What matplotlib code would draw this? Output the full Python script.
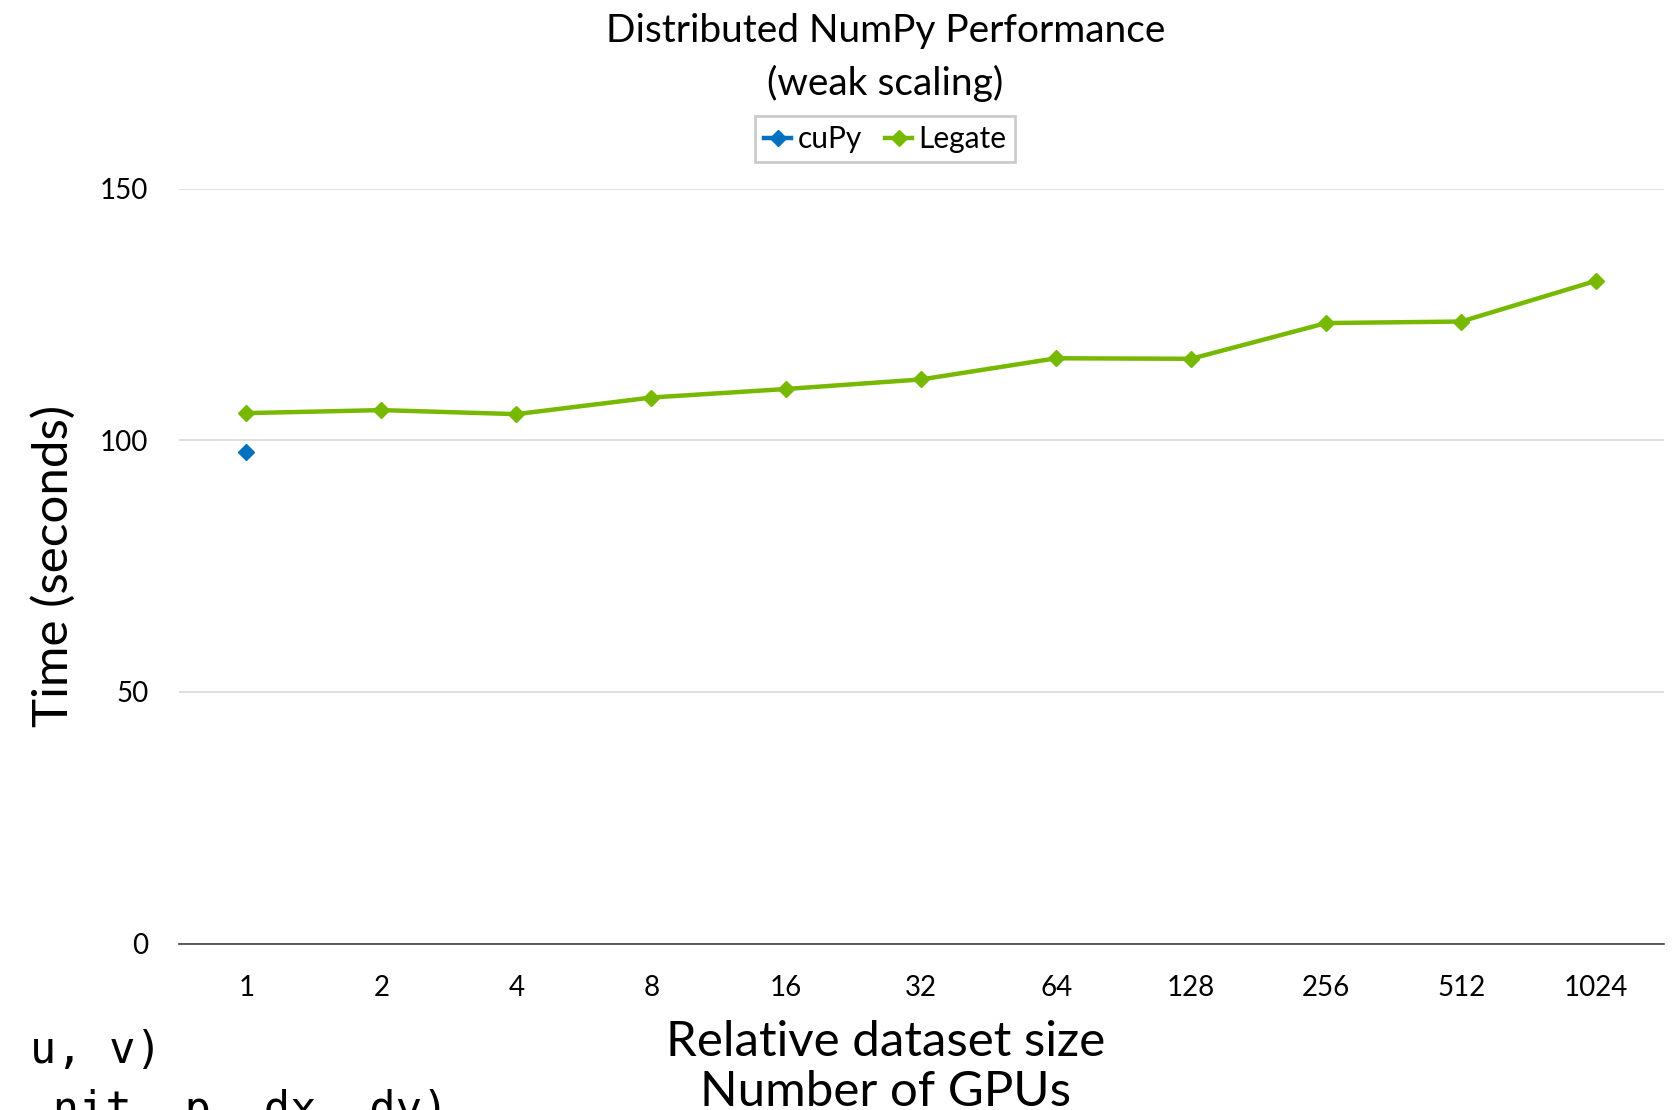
import matplotlib.pyplot as plt

# Datos
gpus = ["1", "2", "4", "8", "16", "32", "64", "128", "256", "512", "1024"]
legate_time = [105.4, 106.0, 105.2, 108.5, 110.2, 112.1, 116.3, 116.2, 123.3, 123.6, 131.7]
cupy_time = [97.6]

GREEN = "#76b900"
BLUE = "#0070c0"
CX = 0.5295  # centro horizontal de títulos y leyenda

plt.rcParams['font.family'] = ['Lato', 'DejaVu Sans']

fig = plt.figure(figsize=(16.72, 11.10), dpi=100)
ax = fig.add_axes([0.107, 0.150, 0.888, 0.680])

x = list(range(len(gpus)))
ax.plot(x[:len(cupy_time)], cupy_time, color=BLUE, marker="D", markersize=8,
        linewidth=3.2, label="cuPy")
ax.plot(x, legate_time, color=GREEN, marker="D", markersize=8,
        linewidth=3.2, label="Legate")

ax.set_xlim(-0.5, len(gpus) - 0.5)
ax.set_ylim(0, 150)
ax.set_yticks([0, 50, 100, 150])
ax.set_xticks(x)
ax.set_xticklabels(gpus)
ax.tick_params(axis="both", length=0, labelsize=20)
ax.tick_params(axis="x", pad=23)
ax.tick_params(axis="y", pad=22)

ax.grid(axis="y", color="#d9d9d9", linewidth=1.2)
ax.set_axisbelow(True)
for s in ["top", "right", "left"]:
    ax.spines[s].set_visible(False)
ax.spines["bottom"].set_color("#404040")
ax.spines["bottom"].set_linewidth(1.2)

ax.set_ylabel("Time (seconds)", fontsize=35.5, labelpad=17)

# Títulos y etiquetas del eje x en coordenadas de figura
fig.text(CX, 0.972, "Distributed NumPy Performance", fontsize=28, ha="center", va="center")
fig.text(CX, 0.925, "(weak scaling)", fontsize=28, ha="center", va="center")
fig.text(CX, 0.061, "Relative dataset size", fontsize=35.5, ha="center", va="center")
fig.text(CX, 0.016, "Number of GPUs", fontsize=35.5, ha="center", va="center")

# Fragmentos de código recortados en la esquina
fig.text(0.018, 0.054, "u, v)", fontsize=31.5, family="DejaVu Sans Mono", va="center")
fig.text(0.0, 0.0, ", nit, p, dx, dy)", fontsize=31.5, family="DejaVu Sans Mono", va="center")

leg = fig.legend(loc="center", bbox_to_anchor=(CX, 0.8748), ncol=2, fontsize=21.5,
                 frameon=True, fancybox=False, handlelength=0.9, handletextpad=0.2,
                 columnspacing=0.8, borderpad=0.3)
leg.get_frame().set_edgecolor("#bfbfbf")
leg.get_frame().set_linewidth(2)

plt.savefig("out.png", dpi=100)
